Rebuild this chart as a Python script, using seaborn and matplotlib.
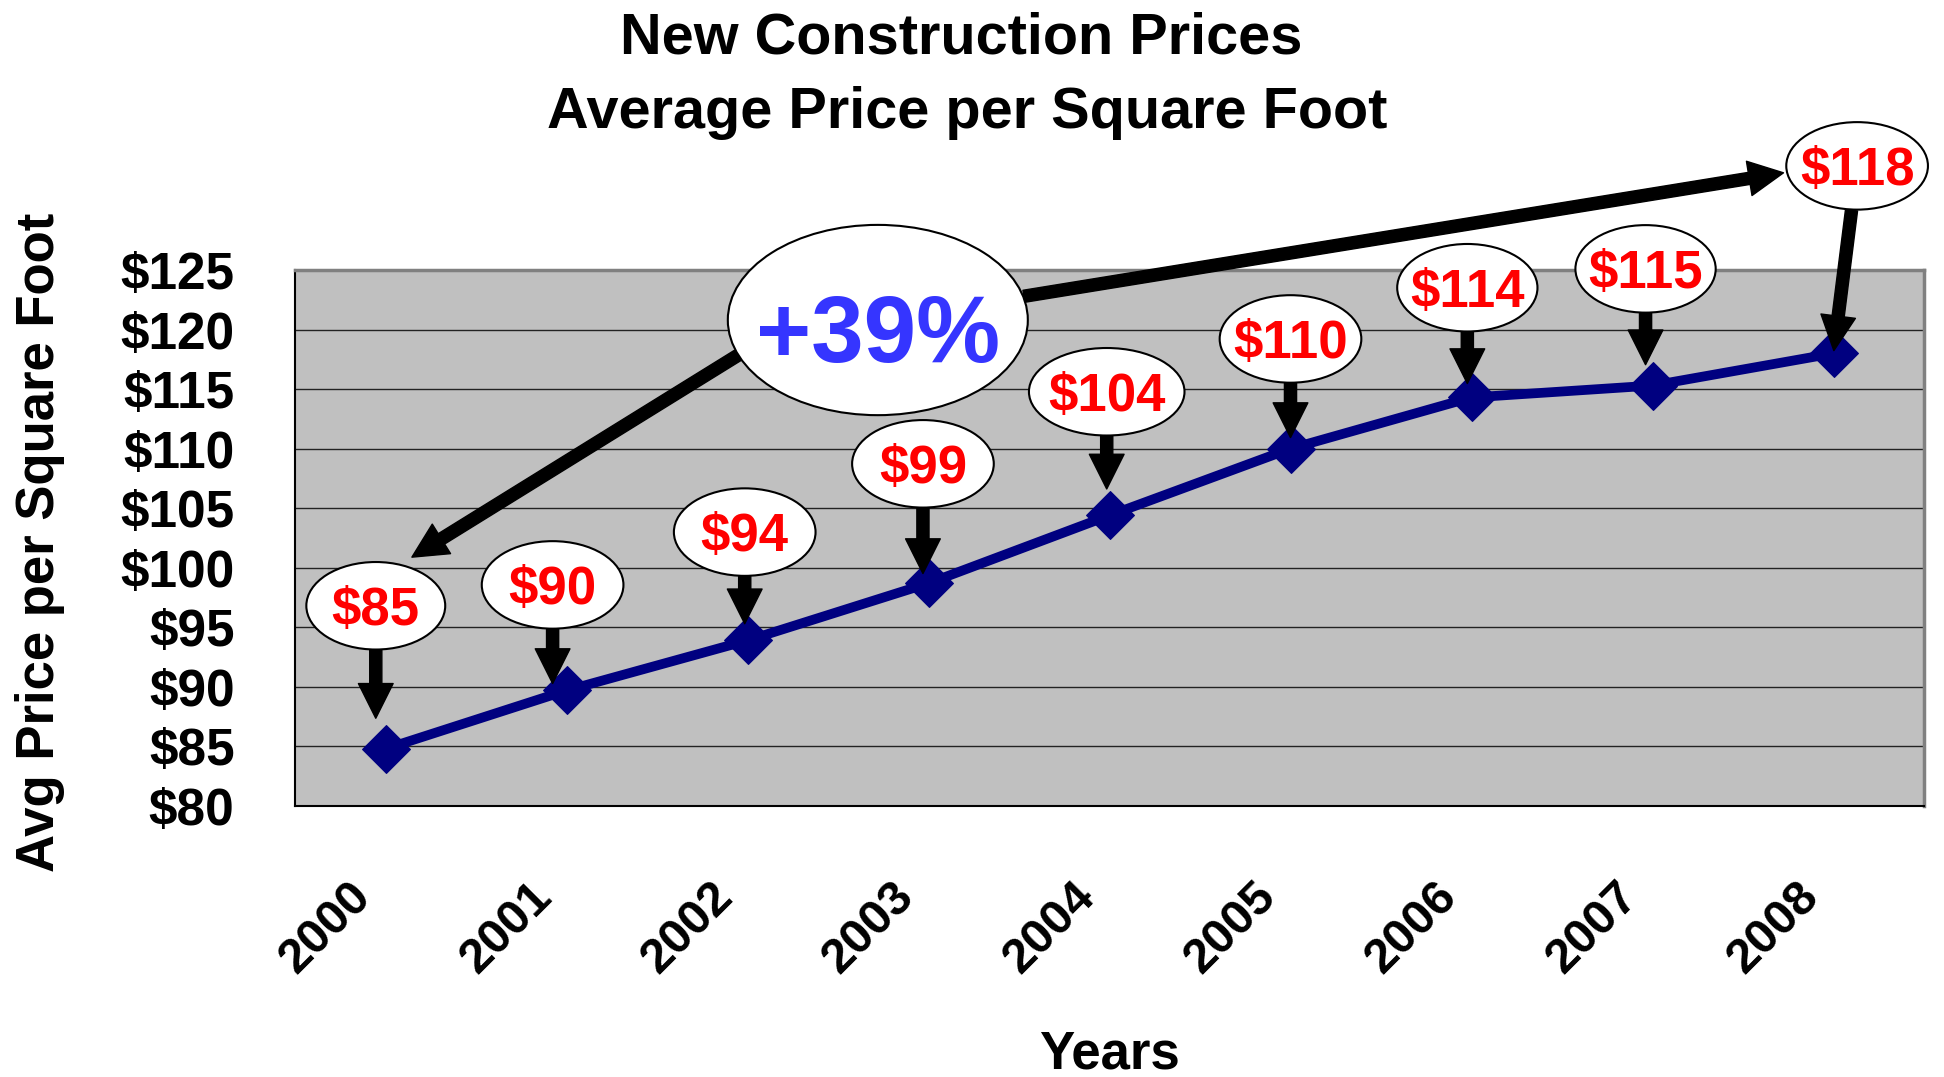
import numpy as np
import pandas as pd
import matplotlib
matplotlib.use("Agg")
import matplotlib.pyplot as plt
import matplotlib.transforms as mtransforms
from matplotlib.patches import Ellipse
import seaborn as sns

# values
years = ["2000", "2001", "2002", "2003", "2004", "2005", "2006", "2007", "2008"]
price = [84.8, 89.7, 93.9, 98.7, 104.4, 110.0, 114.3, 115.3, 118.0]
price_labels = ["$85", "$90", "$94", "$99", "$104", "$110", "$114", "$115", "$118"]
y_ticks = [80, 85, 90, 95, 100, 105, 110, 115, 120, 125]
y_tick_labels = ["$80", "$85", "$90", "$95", "$100", "$105", "$110", "$115", "$120", "$125"]
growth_text = "+39%"

# callout bubbles: offset from their point and size, in points
bubble_offsets = [(-7, 103), (-10, 76), (-2, 78), (-4, 86), (-2, 89), (0, 79), (-3, 79), (-5, 84), (17, 135)]
bubble_widths = [100, 102, 102, 102, 112, 102, 101, 101, 102]
bubble_height = 63
tip_dx = [-7, -10, -2, -4, -2, 0, -3, -5, 0]        # where each short arrow lands
tip_gap = [22, 5, 12, 7, 19, 8, 10, 15, 2]
growth_pos = (2.72, 120.8)             # centre of the big bubble (data units)
growth_starts = [(0, 37), (0, 0)]      # arrow starts, offset from the bubble centre
growth_tips = [(19, 138), (-36, 130)]  # arrow tips, offset from first / last point

sns.set_style("white")
plt.rcParams["font.family"] = ["Liberation Sans", "DejaVu Sans"]
plt.rcParams["font.weight"] = "bold"
plt.rcParams["text.color"] = "black"
plt.rcParams["axes.labelcolor"] = "black"
plt.rcParams["xtick.color"] = "black"
plt.rcParams["ytick.color"] = "black"

df = pd.DataFrame({"pos": np.arange(len(years)), "price": price})

fig = plt.figure(figsize=(19.44, 10.77), dpi=100)
ax = fig.add_axes([295 / 1944, 1 - 806 / 1077, 1629 / 1944, 536 / 1077])
ax.set_facecolor("#c0c0c0")

sns.lineplot(data=df, x="pos", y="price", color="#000080", linewidth=7,
             marker="D", markersize=24, markeredgecolor="#000080", ax=ax, zorder=3)

ax.set_xlim(-0.5, len(years) - 0.5)
ax.set_ylim(y_ticks[0], y_ticks[-1])
ax.set_yticks(y_ticks)
ax.set_yticklabels(y_tick_labels, fontsize=37, fontweight="bold")
ax.set_xticks(np.arange(len(years)))
ax.set_xticklabels(years, fontsize=35, fontweight="bold", rotation=45,
                   ha="right", va="center", rotation_mode="anchor")
ax.set_xticks(np.arange(len(years) + 1) - 0.5, minor=True)
ax.tick_params(axis="x", which="major", length=0, pad=60)
ax.tick_params(axis="x", which="minor", length=13, width=1.2, color="black", direction="out")
ax.tick_params(axis="y", which="major", length=11.5, width=1.2, color="black", direction="out", pad=32)

ax.yaxis.grid(True, color="#222222", linewidth=1)
ax.set_axisbelow(True)
for side in ["top", "right"]:
    ax.spines[side].set_color("#808080")
    ax.spines[side].set_linewidth(2.5)
for side in ["left", "bottom"]:
    ax.spines[side].set_color("black")
    ax.spines[side].set_linewidth(1.5)

ax.set_xlabel("Years", fontsize=38, fontweight="bold", va="center")
ax.xaxis.set_label_coords(0.5, -0.4627)
ax.set_ylabel("Avg Price per Square Foot", fontsize=38, fontweight="bold", va="center")
ax.yaxis.set_label_coords(-0.1565, 0.4925)

fig.text(0.4944, 1 - 39 / 1077, "New Construction Prices", ha="center", va="center",
         fontsize=41.5, fontweight="bold")
fig.text(0.4975, 1 - 113 / 1077, "Average Price per Square Foot", ha="center", va="center",
         fontsize=41.5, fontweight="bold")

arrow = dict(arrowstyle="simple,head_length=1,head_width=1,tail_width=0.35",
             mutation_scale=25, fc="black", ec="black")


def bubble_at(x, y, dx, dy, w, h, z):
    # ellipse sized in points, anchored to a data position
    trans = fig.dpi_scale_trans + mtransforms.ScaledTranslation(x, y, ax.transData)
    e = Ellipse((dx / 72, dy / 72), w / 72, h / 72, transform=trans,
                fc="white", ec="black", lw=1.5, zorder=z, clip_on=False)
    ax.add_patch(e)
    return e


def pts(dx, dy):
    return mtransforms.offset_copy(ax.transData, fig=fig, x=dx, y=dy, units="points")


# big "+39%" bubble with its two long arrows
big = bubble_at(growth_pos[0], growth_pos[1], 0, 0, 216, 137, 7)
for idx, start, tip in zip([0, len(years) - 1], growth_starts, growth_tips):
    ax.annotate("", xy=(idx, price[idx]), xycoords=pts(*tip),
                xytext=growth_pos, textcoords=pts(*start),
                arrowprops=dict(arrow, patchA=big, shrinkA=0, shrinkB=0),
                annotation_clip=False, zorder=6)
growth_size = 68
ax.annotate(growth_text, xy=growth_pos, xytext=(0, -0.358 * growth_size - 6),
            textcoords="offset points", ha="center", va="baseline",
            fontsize=growth_size, fontweight="bold", color="#3535ff", zorder=8)

# price callouts
label_size = 38
for i, lab in enumerate(price_labels):
    dx, dy = bubble_offsets[i]
    e = bubble_at(i, price[i], dx, dy, bubble_widths[i], bubble_height, 5)
    ax.annotate("", xy=(i, price[i]), xycoords=pts(tip_dx[i], 0),
                xytext=(i, price[i]), textcoords=pts(dx, dy),
                arrowprops=dict(arrow, patchA=e, shrinkA=0, shrinkB=tip_gap[i]),
                annotation_clip=False, zorder=4)
    ax.annotate(lab, xy=(i, price[i]), xytext=(dx, dy - 0.358 * label_size),
                textcoords="offset points", ha="center", va="baseline",
                fontsize=label_size, fontweight="bold", color="#ff0000",
                annotation_clip=False, zorder=6)

# shift the slanted year labels so their ends sit left of the category centre
shift = mtransforms.ScaledTranslation(-22 / 100, 0, fig.dpi_scale_trans)
for lbl in ax.get_xticklabels():
    lbl.set_transform(lbl.get_transform() + shift)

fig.savefig("out.png", dpi=100)
